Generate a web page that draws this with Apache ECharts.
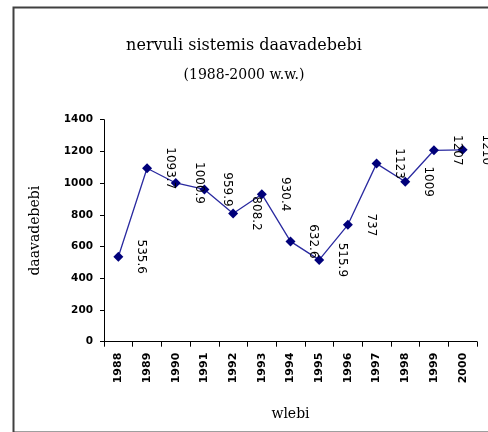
<!DOCTYPE html>
<html>
<head>
<meta charset="utf-8">
<script src="https://cdn.jsdelivr.net/npm/echarts@6/dist/echarts.min.js"></script>
<style>html,body{margin:0;padding:0;background:#fff}#c{width:488px;height:432px}</style>
</head>
<body>
<div id="c"></div>
<script>
const titleText = 'nervuli sistemis daavadebebi';
const subtitleText = '(1988-2000 w.w.)';
const yName = 'daavadebebi';
const xName = 'wlebi';
const years = ['1988','1989','1990','1991','1992','1993','1994','1995','1996','1997','1998','1999','2000'];
const values = [535.6, 1093.7, 1000.9, 959.9, 808.2, 930.4, 632.6, 515.9, 737, 1123, 1009, 1207, 1210];
const yTicks = [0, 200, 400, 600, 800, 1000, 1200, 1400];

const chart = echarts.init(document.getElementById('c'), null, {renderer: 'canvas'});
chart.setOption({
  animation: false,
  backgroundColor: '#fff',
  graphic: [{
    type: 'rect', left: 11, top: 5, z: -1,
    shape: {width: 490, height: 425},
    style: {fill: 'none', stroke: '#404040', lineWidth: 2}
  }],
  title: [
    {text: titleText, left: 'center', top: 33,
     textStyle: {fontFamily: 'DejaVu Serif', fontSize: 16, fontWeight: 'normal', color: '#000'}},
    {text: subtitleText, left: 'center', top: 63,
     textStyle: {fontFamily: 'DejaVu Serif', fontSize: 14, fontWeight: 'normal', color: '#000'}}
  ],
  grid: {left: 104, right: 11, top: 119.7, bottom: 90.3, containLabel: false},
  xAxis: {
    type: 'category', data: years, boundaryGap: true,
    name: xName, nameLocation: 'middle', nameGap: 66,
    nameTextStyle: {fontFamily: 'DejaVu Serif', fontSize: 14, color: '#000'},
    axisLine: {lineStyle: {color: '#000', width: 1}},
    axisTick: {show: true, length: 5, lineStyle: {color: '#000'}},
    axisLabel: {rotate: 90, margin: 11, color: '#000', fontFamily: 'DejaVu Sans', fontWeight: 'bold', fontSize: 11},
    splitLine: {show: false}
  },
  yAxis: {
    type: 'value', min: 0, max: 1400, interval: 200,
    name: yName, nameLocation: 'middle', nameGap: 62, nameRotate: 90,
    nameTextStyle: {fontFamily: 'DejaVu Serif', fontSize: 14, color: '#000'},
    axisLine: {show: true, lineStyle: {color: '#000', width: 1}},
    axisTick: {show: true, length: 4, lineStyle: {color: '#000'}},
    axisLabel: {margin: 11, color: '#000', fontFamily: 'DejaVu Sans', fontWeight: 'bold', fontSize: 10.5,
      formatter: v => yTicks.includes(v) ? String(v) : ''},
    splitLine: {show: false}
  },
  series: [{
    type: 'line', data: values,
    symbol: 'diamond', symbolSize: 10,
    lineStyle: {color: '#2a2aa0', width: 1.3},
    itemStyle: {color: '#00007a'},
    label: {
      show: true, position: 'right', distance: 18, rotate: -90,
      align: 'center', verticalAlign: 'middle',
      color: '#000', fontFamily: 'DejaVu Sans', fontSize: 12,
      formatter: p => String(p.value)
    }
  }]
});
</script>
</body>
</html>
